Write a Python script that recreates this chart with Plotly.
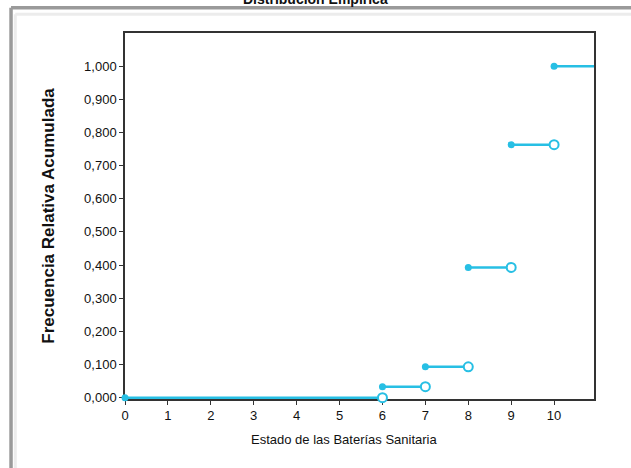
import plotly.graph_objects as go

# ── Data ────────────────────────────────────────────────────
estados = [0, 6, 7, 8, 9, 10]
frec_acum = [0.0, 0.033, 0.093, 0.393, 0.763, 1.0]
x_ticks = list(range(0, 11))
y_ticks = [0.0, 0.1, 0.2, 0.3, 0.4, 0.5, 0.6, 0.7, 0.8, 0.9, 1.0]

X_END = 10.93
CYAN = "#27bfe4"
FONT = "Liberation Sans, Arial, sans-serif"

# step segments: each level runs from its value to the next one
seg_x, seg_y = [], []
right_ends = estados[1:] + [X_END]
for x0, x1, y in zip(estados, right_ends, frec_acum):
    seg_x += [x0, x1, None]
    seg_y += [y, y, None]

fig = go.Figure()

fig.add_trace(go.Scatter(
    x=seg_x, y=seg_y, mode="lines",
    line=dict(color=CYAN, width=2.5),
    hoverinfo="skip", showlegend=False,
))

# open circles at the right end of each finite step
fig.add_trace(go.Scatter(
    x=estados[1:], y=frec_acum[:-1], mode="markers",
    marker=dict(size=9, color="white", line=dict(color=CYAN, width=2)),
    cliponaxis=False, showlegend=False,
))

# filled circles at the left end
fig.add_trace(go.Scatter(
    x=estados, y=frec_acum, mode="markers",
    marker=dict(size=7, color=CYAN),
    cliponaxis=False, showlegend=False,
))

axis_common = dict(
    showgrid=False, zeroline=False,
    showline=True, linecolor="#333333", linewidth=1.5, mirror=True,
    ticks="outside", ticklen=4, tickcolor="#333333",
    tickfont=dict(family=FONT, size=13, color="#111111"),
    layer="below traces",
)

fig.update_layout(
    width=631, height=468,
    paper_bgcolor="white", plot_bgcolor="white",
    separators=",.",
    margin=dict(l=125, r=37, t=33, b=69),
    font=dict(family=FONT, color="#111111"),
    xaxis=dict(**axis_common, range=[0, X_END], tickvals=x_ticks),
    yaxis=dict(
        **axis_common,
        range=[-0.004, 1.1], tickvals=y_ticks, tickformat=".3f",
        title=dict(text="<b>Frecuencia Relativa Acumulada</b>",
                   font=dict(family=FONT, size=17), standoff=25),
    ),
    annotations=[
        dict(text="<b>Distribución Empírica</b>", xref="paper", yref="paper",
             x=0.407, y=1.0656, xanchor="center", yanchor="bottom",
             showarrow=False, font=dict(family=FONT, size=14, color="#111111")),
        dict(text="Estado de las Baterías Sanitaria", xref="paper", yref="paper",
             x=0.467, y=-0.085, xanchor="center", yanchor="top",
             showarrow=False, font=dict(family=FONT, size=13, color="#111111")),
    ],
    shapes=[
        # outer grey frame
        dict(type="line", xref="paper", yref="paper",
             x0=-0.243, x1=1.2, y0=1.069, y1=1.069,
             line=dict(color="#9a9a9a", width=3.5)),
        dict(type="line", xref="paper", yref="paper",
             x0=-0.243, x1=-0.243, y0=1.069, y1=-0.3,
             line=dict(color="#9a9a9a", width=3.5)),
        # inner light frame
        dict(type="line", xref="paper", yref="paper",
             x0=-0.234, x1=1.2, y0=1.051, y1=1.051,
             line=dict(color="#ececec", width=3)),
        dict(type="line", xref="paper", yref="paper",
             x0=-0.234, x1=-0.234, y0=1.051, y1=-0.3,
             line=dict(color="#ececec", width=3)),
    ],
)

fig.write_html("out.html", config={"displayModeBar": False},
               post_script="document.body.style.margin='0';")
